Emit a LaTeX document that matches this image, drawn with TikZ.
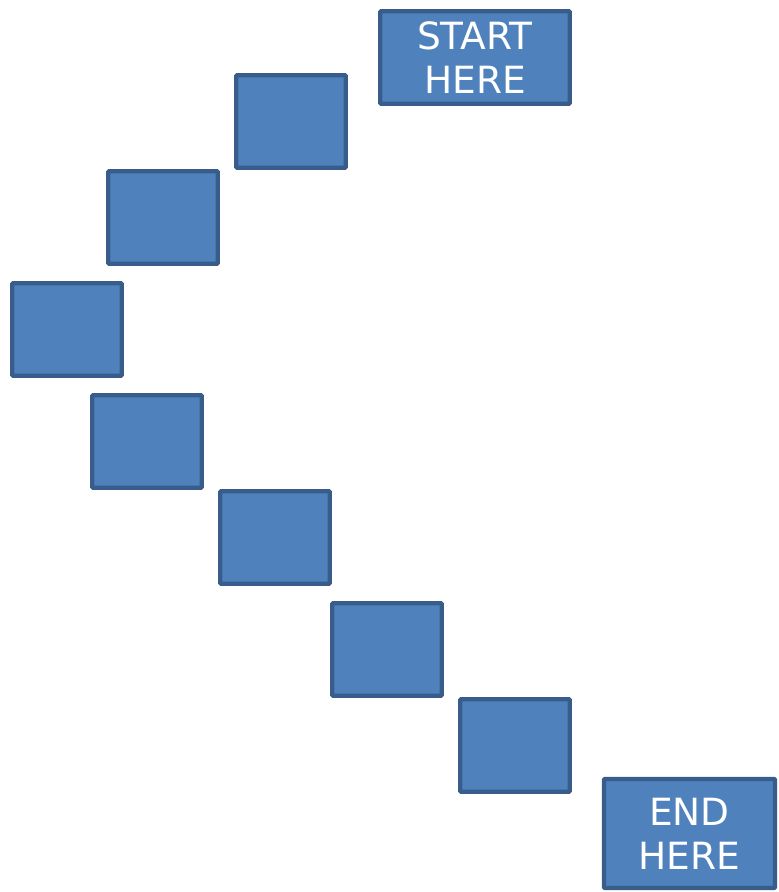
\documentclass[tikz,border=0pt]{standalone}
\usepackage{fontspec}
\setmainfont{DejaVu Sans}
\usepackage{tikz}
\usetikzlibrary{positioning}
\usepackage{xcolor}
\definecolor{boxfill}{HTML}{4F81BD}
\definecolor{boxline}{HTML}{385D8A}
\tikzset{
  stone/.style={rectangle,draw=boxline,fill=boxfill,line width=4.4pt,rounded corners=1pt,
    minimum width=109.5pt,minimum height=92.5pt,inner sep=0pt},
  steplabel/.style={stone,text=white,align=center,font=\fontsize{37.5}{44}\selectfont},
}

\begin{document}
\begin{tikzpicture}[x=1pt,y=-1pt]
  \useasboundingbox (0,0) rectangle (779,892);
  \node[steplabel,minimum width=189.5pt](start) at (475,57.5){START\\HERE};
  \node[stone](s1) at (291,121.5){}; \node[stone](s2) at (163,217.5){};
  \node[stone](s3) at (67,329.5){};  \node[stone](s4) at (147,441.5){};
  \node[stone](s5) at (275,537.5){}; \node[stone](s6) at (387,649.5){};
  \node[stone](s7) at (515,745.5){};
  \node[steplabel,minimum width=171pt,minimum height=109pt](finish) at (689.5,833.5){END\\HERE};
\end{tikzpicture}
\end{document}
